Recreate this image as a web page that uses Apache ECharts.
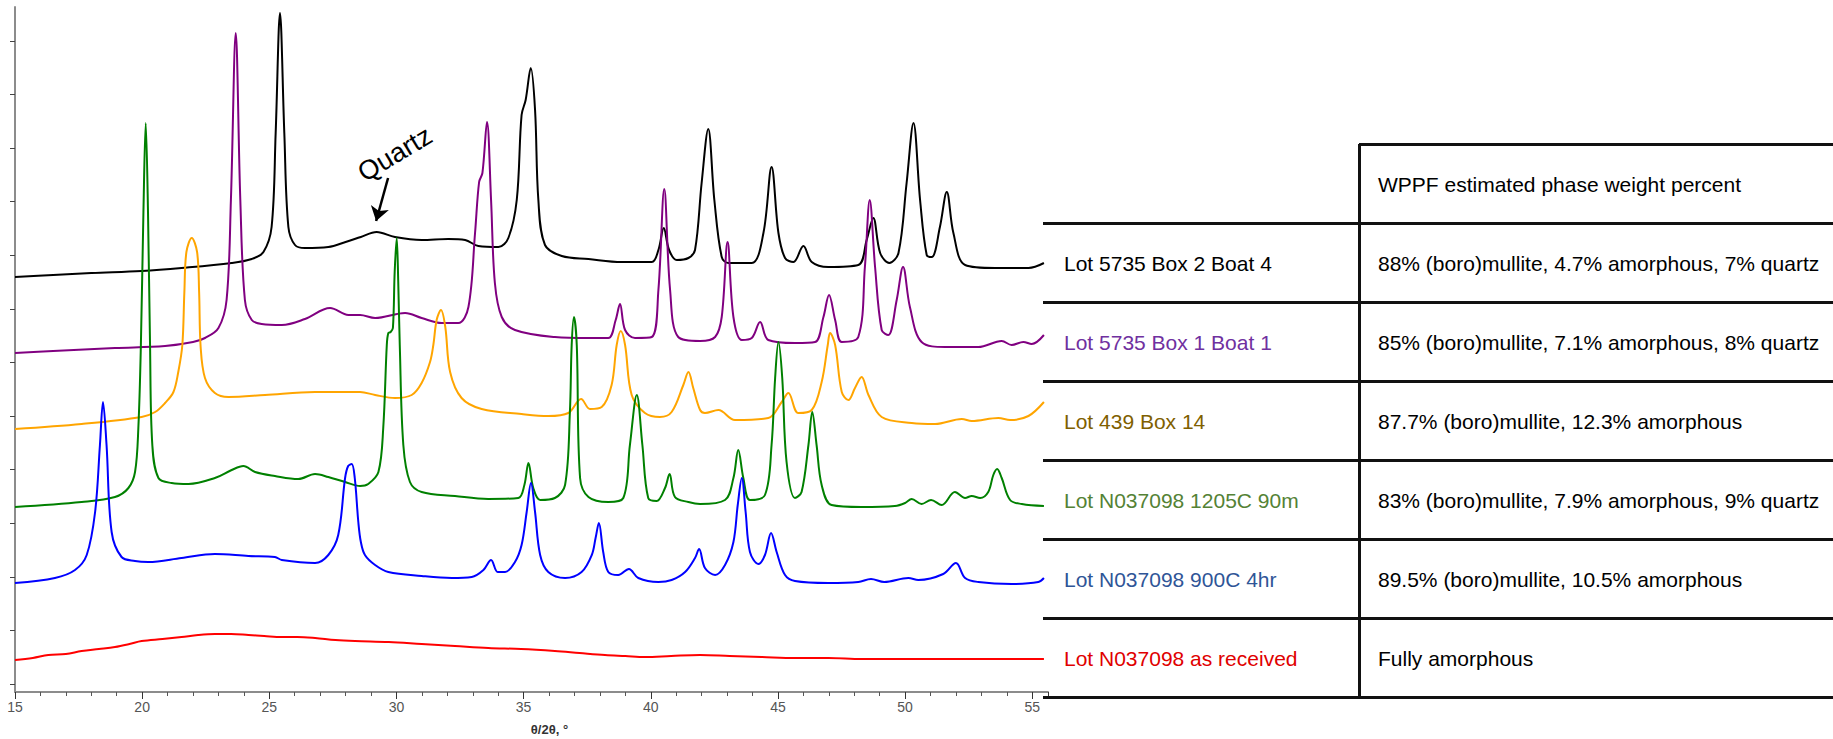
<!DOCTYPE html>
<html>
<head>
<meta charset="utf-8">
<title>XRD patterns</title>
<script src="https://cdn.jsdelivr.net/npm/echarts@6/dist/echarts.min.js"></script>
<style>
    body { margin: 0; background: #fff; }
    #chart { position: absolute; left: 0; top: 0; width: 1833px; height: 739px; }
    #wppf { position: absolute; left: 0; top: 0; width: 1833px; height: 739px; pointer-events: none;
            font-family: 'Liberation Sans', Arial, sans-serif; font-size: 21px; }
    #wppf .ln { position: absolute; background: #111; }
    #wppf .tx { position: absolute; white-space: nowrap; line-height: 24px; }
</style>
</head>
<body>
<div id="chart"></div>
<div id="wppf"></div>
<script>
// 2theta range, tick spacing
var xMin = 15, xMax = 55.62, xStep = 5;
// unlabelled intensity ticks (arb. units)
var yTicks = [8, 61.6, 115.2, 168.8, 222.4, 276, 329.6, 383.2, 436.8, 490.4, 544, 597.6, 651.2];

// [2theta, intensity], offsets as drawn
var box2boat4 = [[15,415],[16.5,417],[18,419],[19.98,421],[21.55,424],[23.52,429],[24.31,433],[24.77,440],[25.09,465],[25.25,559],[25.42,679],[25.59,559],[25.75,465],[26.01,447],[26.4,444],[27.32,445],[28,450],[28.6,455],[29.22,460],[29.94,455],[30.99,452],[32.04,453],[32.7,452],[33.22,446],[34.01,445],[34.4,454],[34.73,492],[34.92,577],[35.08,592],[35.28,624],[35.45,582],[35.58,492],[35.84,447],[36.5,436],[37.55,433],[38.86,430],[40.04,430],[40.3,442],[40.51,464],[40.72,442],[41.02,432],[41.48,434],[41.74,442],[42,509],[42.26,563],[42.5,492],[42.79,435],[43.05,429],[43.97,429],[44.43,459],[44.75,525],[45.02,459],[45.28,434],[45.61,430],[46,446],[46.33,430],[46.98,425],[48.16,427],[48.49,452],[48.75,474],[49.02,439],[49.38,429],[49.74,439],[50.06,509],[50.33,569],[50.59,492],[50.85,437],[51.05,435],[51.37,465],[51.64,500],[51.9,459],[52.36,427],[53.54,424],[54.85,424],[55.46,429]];
var box1boat1 = [[15,339],[16.5,341],[18.93,344],[20.9,346],[22,350],[22.47,354],[23,364],[23.32,392],[23.49,492],[23.68,659],[23.86,492],[24.04,392],[24.31,372],[24.7,368],[25.49,367],[26.4,373],[27.39,384],[28.11,377],[28.57,377],[29.16,374],[30.34,379],[30.99,374],[31.78,369],[32.43,369],[32.83,385],[33.09,459],[33.25,510],[33.38,519],[33.56,570],[33.72,492],[33.87,409],[34.14,375],[34.66,362],[36.23,355],[37.55,354],[38.33,354],[38.62,372],[38.79,388],[38.99,362],[39.38,354],[40.04,355],[40.3,402],[40.53,503],[40.76,402],[41.08,355],[41.94,351],[42.53,355],[42.79,375],[43.02,450],[43.25,375],[43.58,352],[43.97,354],[44.3,370],[44.62,352],[45.67,349],[46.46,350],[46.79,375],[47.01,397],[47.25,372],[47.51,350],[48.16,355],[48.42,425],[48.61,492],[48.82,425],[49.08,362],[49.34,357],[49.67,392],[49.92,425],[50.19,385],[50.65,350],[51.57,345],[52.88,345],[53.8,351],[54.19,347],[54.65,350],[54.98,348],[55.46,357]];
var lot439box14 = [[15,263],[17.62,268],[19.98,275],[20.51,280],[20.9,289],[21.23,300],[21.42,320],[21.58,347],[21.66,400],[21.74,440],[21.95,454],[22.16,440],[22.24,400],[22.3,345],[22.47,314],[22.86,299],[23.39,295],[24.83,297],[26.8,300],[28.57,300],[29.16,297],[29.94,294],[30.6,297],[30.99,309],[31.32,330],[31.45,347],[31.58,372],[31.75,382],[31.92,365],[32.11,320],[32.56,294],[33.35,283],[34.92,278],[35.97,276],[36.76,279],[37.26,293],[37.61,283],[38.07,285],[38.46,307],[38.66,347],[38.82,361],[38.99,347],[39.25,297],[39.77,279],[40.36,275],[40.82,280],[41.28,307],[41.48,320],[41.67,304],[41.94,282],[42.13,279],[42.66,282],[43.31,272],[44.62,274],[45.15,290],[45.41,299],[45.8,279],[46.33,282],[46.72,310],[46.96,347],[47.05,359],[47.25,347],[47.51,300],[47.77,292],[48.03,304],[48.29,315],[48.56,297],[49.08,275],[50.26,269],[51.18,268],[52.23,273],[52.62,271],[53.67,274],[54.13,272],[54.85,276],[55.46,290]];
var n1205c90m = [[15,185],[17.62,190],[18.93,195],[19.46,204],[19.72,220],[19.85,264],[19.95,347],[20.05,480],[20.14,569],[20.23,480],[20.31,347],[20.4,247],[20.64,214],[21.16,209],[21.82,208],[22.86,214],[23.52,222],[23.98,226],[24.44,220],[25.22,216],[26.14,213],[26.8,218],[27.32,215],[27.98,210],[28.57,206],[28.89,208],[29.29,220],[29.48,264],[29.62,347],[29.68,359],[29.77,360],[29.86,364],[29.93,420],[30.01,454],[30.07,410],[30.13,347],[30.27,247],[30.53,210],[30.99,200],[32.3,196],[33.61,193],[34.79,194],[35.03,207],[35.19,229],[35.38,204],[35.65,192],[36.23,194],[36.63,207],[36.82,280],[36.89,347],[36.98,375],[37.09,347],[37.22,214],[37.55,195],[38.33,190],[38.92,194],[39.18,247],[39.45,297],[39.67,247],[39.9,194],[40.23,191],[40.56,204],[40.74,218],[40.95,195],[41.48,190],[41.94,188],[42.92,192],[43.25,214],[43.44,242],[43.64,214],[43.9,192],[44.49,197],[44.75,247],[44.89,314],[45.02,350],[45.17,314],[45.34,230],[45.67,194],[45.93,200],[46.2,247],[46.35,280],[46.52,247],[46.72,207],[47.11,187],[48.29,185],[49.6,186],[50,189],[50.26,193],[50.65,188],[51.02,192],[51.44,187],[51.96,200],[52.36,194],[52.62,196],[52.95,194],[53.27,200],[53.47,217],[53.62,223],[53.8,214],[54.13,192],[54.59,188],[55.46,186]];
var n900c4hr = [[15,109],[16.57,114],[17.36,122],[17.82,137],[18.15,180],[18.34,247],[18.46,290],[18.6,247],[18.8,160],[19.19,135],[19.72,131],[20.24,130],[21.55,134],[22.86,138],[24.18,136],[25.22,135],[25.49,132],[26.8,129],[27.32,137],[27.71,157],[27.98,214],[28.1,226],[28.24,228],[28.36,214],[28.5,170],[28.6,150],[28.76,137],[29.16,127],[29.68,120],[30.99,116],[32.17,114],[32.96,115],[33.42,122],[33.72,132],[33.98,120],[34.27,120],[34.66,130],[34.92,147],[35.12,180],[35.29,209],[35.45,180],[35.65,137],[35.97,120],[36.63,114],[37.28,120],[37.68,137],[37.83,154],[37.96,169],[38.13,140],[38.33,120],[38.72,117],[39.14,123],[39.51,114],[40.3,110],[40.82,112],[41.35,120],[41.74,134],[41.9,143],[42.13,124],[42.53,117],[42.92,127],[43.25,150],[43.42,187],[43.58,214],[43.73,180],[43.9,140],[44.23,128],[44.49,137],[44.73,159],[44.95,140],[45.28,117],[45.67,111],[46.98,109],[48.16,110],[48.66,113],[49.18,110],[50.13,114],[50.52,112],[51.5,118],[52,129],[52.36,114],[52.88,110],[54.19,108],[55.24,110],[55.46,114]];
var nAsReceived = [[15,32],[15.7,34],[16.31,37],[17,38],[17.62,41],[18.3,43],[18.93,45],[19.5,48],[19.98,51],[20.8,53],[21.55,55],[22.2,57],[22.86,58],[23.5,58],[24.18,57],[24.8,56],[25.49,55],[26.1,55],[26.8,54],[27.6,52],[28.37,51],[29.7,50],[30.99,48],[32.3,46],[33.61,44],[34.9,43],[36.23,41],[37.2,39],[38.2,37],[39,36],[39.77,35],[40.8,36],[41.94,37],[43.1,36],[44.36,35],[45.7,34],[46.98,34],[48.3,33],[49.6,33],[50.9,33],[52.23,33],[53.8,33],[55.46,33]];

var seriesNames = ['Lot 5735 Box 2 Boat 4', 'Lot 5735 Box 1 Boat 1', 'Lot 439 Box 14',
                   'Lot N037098 1205C 90m', 'Lot N037098 900C 4hr', 'Lot N037098 as received'];
var seriesData = [box2boat4, box1boat1, lot439box14, n1205c90m, n900c4hr, nAsReceived];
var lineColors = ['#000000', '#800080', '#ffa500', '#008000', '#0000ff', '#ff0000'];

// table on the right
var headerText = 'WPPF estimated phase weight percent';
var phaseText = ['88% (boro)mullite, 4.7% amorphous, 7% quartz',
                 '85% (boro)mullite, 7.1% amorphous, 8% quartz',
                 '87.7% (boro)mullite, 12.3% amorphous',
                 '83% (boro)mullite, 7.9% amorphous, 9% quartz',
                 '89.5% (boro)mullite, 10.5% amorphous',
                 'Fully amorphous'];
var nameColors = ['#000000', '#7030a0', '#7f6000', '#548235', '#2f5597', '#e00000'];

// quartz callout: label spot, arrow tail, arrow head
var quartzLabel = [29.94, 538];
var quartzArrow = [[29.67, 514], [29.2, 471]];

var chart = echarts.init(document.getElementById('chart'), null, { renderer: 'svg' });

var series = seriesData.map(function (d, i) {
    return {
        name: seriesNames[i],
        type: 'line',
        data: d,
        showSymbol: false,
        smooth: 0.35,
        lineStyle: { color: lineColors[i], width: 2, join: 'round' },
        itemStyle: { color: lineColors[i] },
        emphasis: { disabled: true },
        z: 2 + i
    };
});

// callout rides on the black pattern
series[0].markPoint = {
    symbol: 'circle',
    symbolSize: 0,
    silent: true,
    data: [{ coord: quartzLabel }],
    label: {
        show: true,
        position: 'inside',
        formatter: 'Quartz',
        rotate: 31,
        fontSize: 27,
        color: '#000',
        fontFamily: "'Liberation Sans', Arial, sans-serif"
    }
};
series[0].markLine = {
    silent: true,
    symbol: ['none', 'arrow'],
    symbolSize: 14,
    label: { show: false },
    lineStyle: { color: '#000', width: 2.5, type: 'solid' },
    data: [[{ coord: quartzArrow[0] }, { coord: quartzArrow[1] }]]
};

var option = {
    animation: false,
    backgroundColor: '#fff',
    grid: { left: 15, right: 785, top: 7, bottom: 47, outerBoundsMode: 'none' },
    xAxis: {
        type: 'value',
        min: xMin,
        max: xMax,
        interval: xStep,
        name: 'θ/2θ, °',
        nameLocation: 'middle',
        nameGap: 31,
        nameTextStyle: { fontWeight: 'bold', fontSize: 13, color: '#333', padding: [0, 0, 0, 36],
                         fontFamily: "'Liberation Sans', Arial, sans-serif" },
        axisLine: { lineStyle: { color: '#8c8c8c', width: 2 } },
        axisTick: { length: 7, lineStyle: { color: '#333', width: 1 } },
        minorTick: { show: true, splitNumber: 5, length: 4, lineStyle: { color: '#555', width: 1 } },
        splitLine: { show: false },
        minorSplitLine: { show: false },
        axisLabel: {
            margin: 8,
            fontSize: 14,
            color: '#555',
            fontFamily: "'Liberation Sans Narrow', 'Liberation Sans', Arial, sans-serif",
            formatter: function (v) { return v % xStep === 0 ? String(v) : ''; }
        }
    },
    yAxis: {
        type: 'value',
        min: 0,
        max: 685,
        axisLine: { show: true, lineStyle: { color: '#8c8c8c', width: 2 } },
        axisTick: { show: true, length: 5, customValues: yTicks, lineStyle: { color: '#444', width: 1 } },
        axisLabel: { show: false },
        splitLine: { show: false }
    },
    series: series
};
chart.setOption(option);

// --- table ---
var wppf = document.getElementById('wppf');
var tLeft = 1043, tDiv = 1359, tTop = 144, rowH = 79, lw = 3, tRight = 1833;
function addLine(x, y, w, h) {
    var el = document.createElement('div');
    el.className = 'ln';
    el.style.left = x + 'px'; el.style.top = y + 'px';
    el.style.width = w + 'px'; el.style.height = h + 'px';
    wppf.appendChild(el);
}
function addText(x, yMid, txt, color) {
    var el = document.createElement('div');
    el.className = 'tx';
    el.textContent = txt;
    el.style.left = x + 'px'; el.style.top = (yMid - 11) + 'px';
    el.style.color = color;
    wppf.appendChild(el);
}
addLine(tDiv, tTop - lw / 2, tRight - tDiv, lw);
for (var r = 1; r <= phaseText.length + 1; r++) {
    addLine(tLeft, tTop + r * rowH - lw / 2, tRight - tLeft, lw);
}
addLine(tDiv - 1, tTop, lw, rowH * (phaseText.length + 1) + 1);
addText(tDiv + 19, tTop + rowH / 2, headerText, '#000');
for (var i = 0; i < phaseText.length; i++) {
    var mid = tTop + (i + 1.5) * rowH;
    addText(tLeft + 21, mid, seriesNames[i], nameColors[i]);
    addText(tDiv + 19, mid, phaseText[i], '#000');
}
</script>
</body>
</html>
